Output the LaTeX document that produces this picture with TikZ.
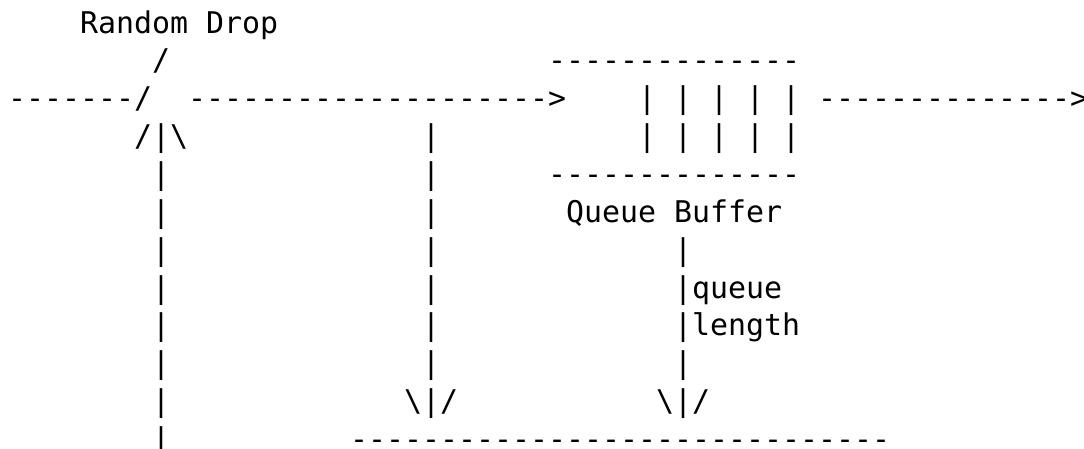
\documentclass[tikz,border=0pt]{standalone}
\usepackage{fontspec}
\setmonofont{DejaVu Sans Mono}
\usepackage{tikz}
\usetikzlibrary{positioning}
\tikzset{%
	ascii/.style={
		font=\ttfamily\fontsize{14.95pt}{18pt}\selectfont,
		inner sep=0pt,
		anchor=base west
	},
}
\begin{document}
\begin{tikzpicture}[x=9pt, y=-18.93pt]
	% one unit = one character cell (column, line)
	\useasboundingbox (-0.428,-0.874) rectangle (59.794,10.985);

	% drop point and incoming line
	\node[ascii] (drop) at (4,0) {Random Drop};
	\node[ascii] (dropTip) at (8,1) {/};
	\node[ascii] (inLine) at (0,2) {-------/};
	\node[ascii] (toQueue) at (10,2) {-------------------->};
	\node[ascii] (dropFork) at (7,3) {/|\textbackslash};

	% queue buffer
	\node[ascii] (bufTop) at (30,1) {--------------};
	\node[ascii] (bufSlotsA) at (35,2) {| | | | |};
	\node[ascii] (bufSlotsB) at (35,3) {| | | | |};
	\node[ascii] (bufBot) at (30,4) {--------------};
	\node[ascii] (bufLabel) at (31,5) {Queue Buffer};
	\node[ascii] (outLine) at (45,2) {-------------->};

	% left feedback line
	\foreach \r in {4,...,11}
		\node[ascii] (left\r) at (8,\r) {|};

	% arrival tap
	\foreach \r in {3,...,9}
		\node[ascii] (tap\r) at (23,\r) {|};
	\node[ascii] (tapTip) at (22,10) {\textbackslash|/};

	% queue length tap
	\node[ascii] (lenTop) at (37,6) {|};
	\node[ascii] (lenQueue) at (37,7) {|queue};
	\node[ascii] (lenLength) at (37,8) {|length};
	\node[ascii] (lenBot) at (37,9) {|};
	\node[ascii] (lenTip) at (36,10) {\textbackslash|/};

	% bottom bar
	\node[ascii] (ctrlBar) at (19,11) {------------------------------};
\end{tikzpicture}
\end{document}
